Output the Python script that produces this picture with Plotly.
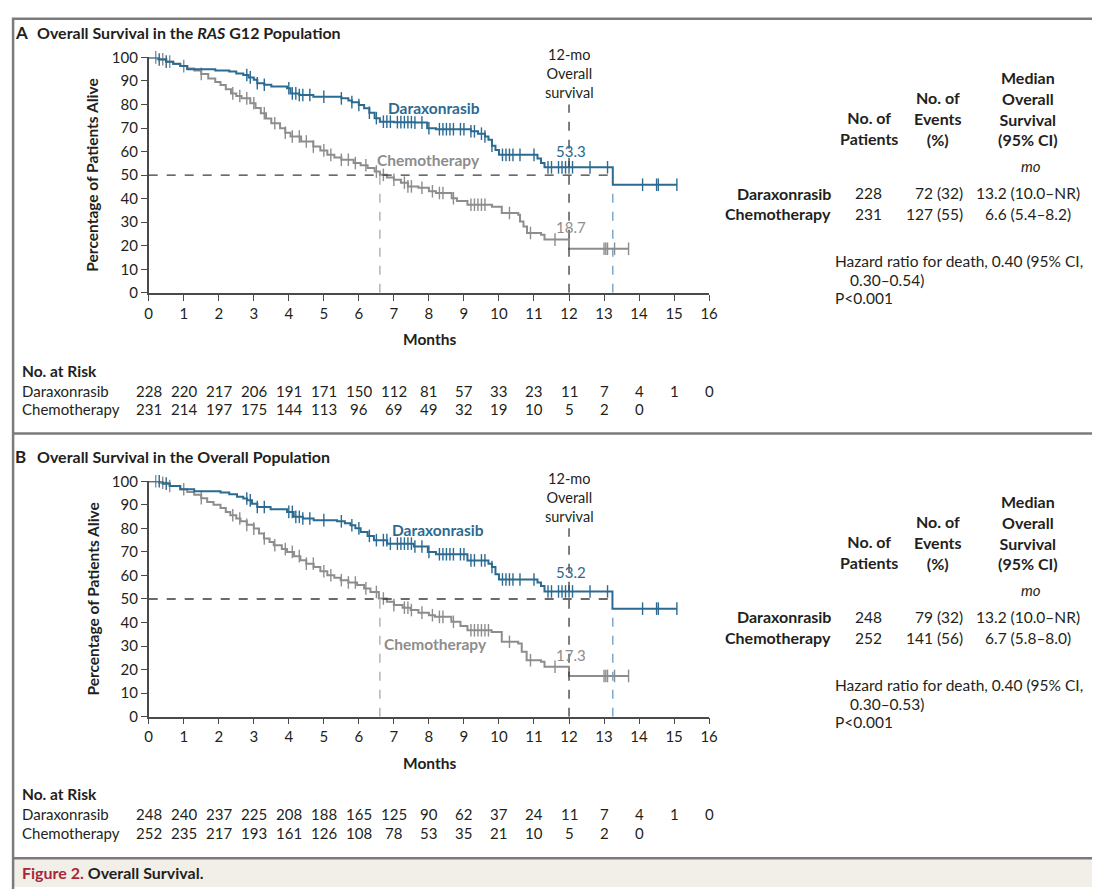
import plotly.graph_objects as go
import plotly.io as pio

pio.templates.default = 'plotly_white'

W, H = 1100, 887
# the photographed page comes out slightly shrunk and shifted; these undo that when placing things
SX, SY = 0.9857, 0.9823
OX, OY = 11.8, 17.8
BLUE = '#2b6a91'
GRAY = '#8d8d8d'
INK = '#231f20'
FONT = 'Lato'

# ---- data ----
months = list(range(0, 17))

# panel A (RAS G12 population)
a_dara_t = [0, 0.3, 0.5, 0.7, 0.9, 1.1, 1.9, 2.3, 2.5, 2.7, 2.85, 3.0, 3.1, 3.3, 3.5, 3.95, 4.05, 4.3, 4.7, 5.5,
            5.7, 5.8, 6.0, 6.15, 6.3, 6.45, 6.6, 7.0, 7.6, 7.95, 8.2, 9.2, 9.4, 9.6, 9.7, 9.8, 9.9, 10.0, 11.1, 11.2,
            11.3, 13.25, 15.08]
a_dara_s = [100, 99.1, 98.2, 97.3, 96.3, 95.0, 94.4, 94.0, 93.2, 92.5, 91.5, 90.5, 89.0, 88.4, 87.6, 86.9, 84.7, 84.0,
            83.3, 82.6, 81.7, 81.0, 79.8, 78.4, 76.5, 74.2, 72.7, 72.5, 72.3, 69.9, 69.5, 68.6, 67.6, 66.4, 65.0, 62.5,
            60.7, 58.6, 57.0, 55.1, 53.3, 45.9, 45.9]
a_chemo_t = [0, 0.25, 0.5, 0.7, 0.9, 1.1, 1.3, 1.5, 1.7, 1.9, 2.05, 2.2, 2.35, 2.5, 2.65, 2.9, 3.05, 3.2, 3.35, 3.5,
             3.75, 3.9, 4.05, 4.35, 4.7, 4.9, 5.1, 5.3, 5.5, 5.85, 6.05, 6.25, 6.45, 6.6, 6.8, 7.0, 7.2, 7.4, 7.7, 8.0,
             8.2, 8.65, 8.8, 9.1, 9.8, 10.08, 10.55, 10.6, 10.7, 10.8, 11.2, 11.3, 12.0, 13.7]
a_chemo_s = [100, 99.2, 98.2, 97.2, 96.3, 95.3, 94.4, 93.0, 91.0, 89.5, 88.3, 86.5, 84.7, 83.6, 82.6, 80.5, 78.5, 76.3,
             74.0, 72.0, 69.9, 68.0, 66.4, 64.3, 62.1, 60.5, 58.6, 57.5, 56.5, 55.1, 54.2, 53.0, 51.5, 50.1, 49.0, 48.0,
             46.8, 45.2, 44.6, 43.1, 42.4, 40.2, 39.0, 37.4, 36.5, 33.9, 33.2, 30.3, 28.2, 25.4, 24.7, 22.6, 18.7, 18.7]
a_dara_cens = [0.3, 0.5, 2.8, 2.9, 3.1, 3.3, 4.0, 4.1, 4.2, 4.3, 4.4, 4.6, 5.0, 5.5, 5.8, 6.0, 6.3, 6.5, 6.7, 6.8, 6.9,
               7.1, 7.2, 7.3, 7.4, 7.5, 7.6, 7.8, 8.0, 8.3, 8.4, 8.5, 8.6, 8.7, 8.9, 9.0, 9.2, 9.3, 9.5, 9.6, 9.8, 10.1,
               10.2, 10.3, 10.4, 10.6, 11.0, 11.4, 11.5, 11.7, 11.8, 11.9, 12.0, 12.1, 12.6, 13.1, 14.1, 14.5, 14.55,
               15.08]
a_chemo_cens = [0.2, 0.4, 0.6, 1.0, 1.5, 2.4, 2.6, 2.8, 3.0, 3.3, 3.6, 3.9, 4.1, 4.3, 4.5, 4.7, 5.0, 5.2, 5.5, 5.7, 5.9,
                6.2, 6.5, 6.7, 7.0, 7.3, 7.4, 7.5, 7.8, 8.1, 8.3, 8.4, 8.7, 9.2, 9.3, 9.4, 9.5, 9.6, 10.3, 10.9, 11.6,
                13.0, 13.05, 13.1, 13.3, 13.7]

# panel B (overall population)
b_dara_t = [0, 0.4, 0.6, 0.9, 1.3, 2.05, 2.3, 2.52, 2.7, 2.81, 2.95, 3.1, 3.48, 3.95, 4.14, 4.4, 4.71, 5.38, 5.6,
            5.76, 5.9, 6.05, 6.25, 6.43, 6.81, 7.57, 7.97, 8.2, 9.1, 9.7, 9.8, 9.9, 10.0, 11.1, 11.2, 11.3, 13.24, 15.08]
b_dara_s = [100, 99.0, 98.0, 96.6, 95.8, 95.2, 94.5, 93.4, 92.7, 91.9, 90.5, 89.1, 88.1, 87.0, 84.9, 84.2, 83.5, 83.0,
            82.2, 81.3, 80.0, 78.5, 76.8, 75.0, 73.5, 72.3, 70.0, 69.0, 66.4, 65.0, 63.6, 60.5, 58.3, 57.0, 55.5, 53.2,
            45.9, 45.9]
b_chemo_t = [0, 0.3, 0.6, 0.9, 1.1, 1.3, 1.5, 1.67, 1.85, 2.05, 2.2, 2.33, 2.5, 2.62, 2.8, 3.0, 3.15, 3.29, 3.45, 3.57,
             3.8, 3.95, 4.15, 4.33, 4.5, 4.71, 4.9, 5.1, 5.3, 5.48, 5.7, 5.95, 6.15, 6.33, 6.57, 6.8, 7.0, 7.25, 7.48,
             7.7, 8.0, 8.17, 8.64, 8.9, 9.1, 9.79, 10.08, 10.55, 10.65, 10.79, 11.2, 11.3, 12.0, 13.7]
b_chemo_s = [100, 99.4, 98.0, 96.6, 95.5, 94.3, 92.8, 91.2, 90.0, 88.7, 87.0, 85.6, 84.2, 83.0, 81.5, 79.9, 77.8, 75.7,
             74.2, 72.8, 71.2, 70.0, 68.2, 66.5, 65.0, 63.6, 61.8, 60.1, 59.0, 58.0, 57.0, 55.9, 54.5, 53.0, 50.2, 48.8,
             47.4, 46.3, 45.3, 44.2, 43.1, 42.4, 40.3, 38.5, 36.7, 36.0, 31.8, 31.1, 27.6, 24.0, 23.3, 21.2, 17.3, 17.3]
b_dara_cens = [0.3, 0.5, 2.8, 2.9, 3.1, 3.3, 4.0, 4.1, 4.2, 4.3, 4.4, 4.6, 5.0, 5.5, 5.8, 6.0, 6.3, 6.5, 6.7, 6.8, 6.9,
               7.1, 7.2, 7.3, 7.4, 7.5, 7.6, 7.8, 8.0, 8.3, 8.4, 8.5, 8.6, 8.7, 8.9, 9.0, 9.2, 9.3, 9.5, 9.6, 9.8, 10.1,
               10.2, 10.3, 10.4, 10.6, 11.0, 11.4, 11.5, 11.7, 11.8, 11.9, 12.0, 12.1, 12.6, 13.1, 14.1, 14.5, 14.55,
               15.08]
b_chemo_cens = [0.2, 0.4, 0.6, 1.0, 1.5, 2.4, 2.6, 2.8, 3.0, 3.3, 3.6, 3.9, 4.1, 4.3, 4.5, 4.7, 5.0, 5.2, 5.5, 5.7, 5.9,
                6.2, 6.5, 6.7, 7.0, 7.3, 7.4, 7.5, 7.8, 8.1, 8.3, 8.4, 8.7, 9.2, 9.3, 9.4, 9.5, 9.6, 9.7, 10.3, 10.9,
                11.6, 13.0, 13.05, 13.1, 13.3, 13.7]

# number at risk
a_risk_dara = [228, 220, 217, 206, 191, 171, 150, 112, 81, 57, 33, 23, 11, 7, 4, 1, 0]
a_risk_chemo = [231, 214, 197, 175, 144, 113, 96, 69, 49, 32, 19, 10, 5, 2, 0]
b_risk_dara = [248, 240, 237, 225, 208, 188, 165, 125, 90, 62, 37, 24, 11, 7, 4, 1, 0]
b_risk_chemo = [252, 235, 217, 193, 161, 126, 108, 78, 53, 35, 21, 10, 5, 2, 0]

# summary table
arms = ['Daraxonrasib', 'Chemotherapy']
a_patients = ['228', '231']
a_events = ['72 (32)', '127 (55)']
a_median = ['13.2 (10.0–NR)', '6.6 (5.4–8.2)']
b_patients = ['248', '252']
b_events = ['79 (32)', '141 (56)']
b_median = ['13.2 (10.0–NR)', '6.7 (5.8–8.0)']
a_hr = ['Hazard ratio for death, 0.40 (95% CI,', '0.30–0.54)', 'P<0.001']
b_hr = ['Hazard ratio for death, 0.40 (95% CI,', '0.30–0.53)', 'P<0.001']
a_med_months = [13.25, 6.6]
b_med_months = [13.25, 6.6]
a_os12 = ['53.3', '18.7']
b_os12 = ['53.2', '17.3']


def px(x):
    return min(max((x / SX - OX) / W, 0.001), 0.999)


def py(y):
    return min(max(1 - (y / SY - OY) / H, 0.0), 0.999)


def surv_at(ts, ss, t):
    val = ss[0]
    for ti, si in zip(ts, ss):
        if ti <= t:
            val = si
    return val


fig = go.Figure()
annotations = []
shapes = []


def text(x, y, s, size=15, color=INK, xanchor='left', yanchor='middle', xref='paper', yref='paper', **kw):
    if xref == 'paper':
        x = px(x)
    if yref == 'paper':
        y = py(y)
    annotations.append(dict(x=x, y=y, xref=xref, yref=yref, text=s, showarrow=False, xanchor=xanchor,
                            yanchor=yanchor, font=dict(family=FONT, size=size, color=color), **kw))


def panel(k, oy, letter, title, dara, chemo, risk, table, hr, med, os12, lab):
    xa = 'x' if k == 1 else f'x{k}'
    ya = 'y' if k == 1 else f'y{k}'
    (dt, ds, dc), (ct, cs, cc) = dara, chemo
    for t, s, c, col in [(ct, cs, cc, GRAY), (dt, ds, dc, BLUE)]:
        fig.add_trace(go.Scatter(x=t, y=s, mode='lines', line=dict(color=col, width=2, shape='hv'),
                                 xaxis=xa, yaxis=ya, cliponaxis=False, showlegend=False, hoverinfo='skip'))
        fig.add_trace(go.Scatter(x=c, y=[surv_at(t, s, v) for v in c], mode='markers',
                                 marker=dict(symbol='line-ns-open', size=9, color=col,
                                             line=dict(color=col, width=1.4)),
                                 xaxis=xa, yaxis=ya, cliponaxis=False, showlegend=False, hoverinfo='skip'))

    # reference lines
    shapes.append(dict(type='line', xref=xa, yref=ya, x0=0, x1=med[0], y0=50, y1=50,
                       line=dict(color='#3a3a3a', width=1.3, dash='dash')))
    shapes.append(dict(type='line', xref=xa, yref=ya, x0=med[1], x1=med[1], y0=0, y1=50,
                       line=dict(color='#a8a8a8', width=1.3, dash='dash')))
    shapes.append(dict(type='line', xref=xa, yref=ya, x0=med[0], x1=med[0], y0=0, y1=surv_at(dt, ds, med[0]),
                       line=dict(color='#6a9ac0', width=1.3, dash='dash')))
    shapes.append(dict(type='line', xref=xa, yref=ya, x0=12, x1=12, y0=0, y1=80,
                       line=dict(color='#3a3a3a', width=1.3, dash='dash')))

    text(12, 80.5, '12-mo<br>Overall<br>survival', size=14.5, xanchor='center', yanchor='bottom',
         xref=xa, yref=ya)
    text(12.05, lab[0], os12[0], size=15, color=BLUE, xanchor='center', xref=xa, yref=ya)
    text(12.05, lab[1], os12[1], size=15, color=GRAY, xanchor='center', xref=xa, yref=ya)
    text(lab[2][0], lab[2][1], '<b>Daraxonrasib</b>', size=15.5, color=BLUE, xanchor='center', xref=xa, yref=ya)
    text(lab[3][0], lab[3][1], '<b>Chemotherapy</b>', size=15.5, color=GRAY, xanchor='center', xref=xa, yref=ya)

    # titles
    text(12, 32 + oy, f'<b>{letter}</b>', size=17)
    text(35, 32 + oy, f'<b>{title}</b>', size=16)
    text(92, 175 + oy, '<b>Percentage of Patients Alive</b>', size=15.5, xanchor='center', textangle=-90)
    text(428, 339 + oy, '<b>Months</b>', size=15.5, xanchor='center')

    # number at risk
    text(20, 371 + oy, '<b>No. at Risk</b>', size=15.5)
    for row, (name, vals) in enumerate(zip(arms, risk)):
        yy = 391 + oy + row * 19
        text(20, yy, name, size=15)
        for m, v in zip(months, vals):
            text(m, yy, str(v), size=15, xanchor='center', xref=xa)

    # summary table
    pats, evs, meds = table
    text(866, 128 + oy, '<b>No. of<br>Patients</b>', size=16, xanchor='center')
    text(935, 118 + oy, '<b>No. of<br>Events<br>(%)</b>', size=16, xanchor='center')
    text(1025, 108 + oy, '<b>Median<br>Overall<br>Survival<br>(95% CI)</b>', size=16, xanchor='center')
    text(1028, 166 + oy, '<i>mo</i>', size=15, xanchor='center')
    for row in range(2):
        yy = 193 + oy + row * 21
        text(831, yy, f'<b>{arms[row]}</b>', size=16, xanchor='right')
        text(866, yy, pats[row], size=15.5, xanchor='center')
        text(962, yy, evs[row], size=15.5, xanchor='right')
        text(1025, yy, meds[row], size=15.5, xanchor='center')
    text(831, 261 + oy, hr[0], size=15.5)
    text(846, 280 + oy, hr[1], size=15.5)
    text(831, 298 + oy, hr[2], size=15.5)


panel(1, 0, 'A', 'Overall Survival in the <i>RAS</i> G12 Population',
      (a_dara_t, a_dara_s, a_dara_cens), (a_chemo_t, a_chemo_s, a_chemo_cens),
      (a_risk_dara, a_risk_chemo), (a_patients, a_events, a_median), a_hr, a_med_months, a_os12,
      (60.2, 27.8, (8.15, 78.6), (8.0, 56.4)))
panel(2, 425, 'B', 'Overall Survival in the Overall Population',
      (b_dara_t, b_dara_s, b_dara_cens), (b_chemo_t, b_chemo_s, b_chemo_cens),
      (b_risk_dara, b_risk_chemo), (b_patients, b_events, b_median), b_hr, b_med_months, b_os12,
      (61.5, 26.2, (8.25, 79.4), (8.2, 30.9)))

# frame, separators and caption band
L, R = px(2), px(1098)
shapes += [
    dict(type='rect', xref='paper', yref='paper', x0=0, x1=1, y0=0, y1=py(860),
         fillcolor='#f2eee8', line=dict(width=0), layer='below'),
    dict(type='rect', xref='paper', yref='paper', x0=L, x1=R, y0=-0.01, y1=py(12),
         line=dict(color='#7b7b7b', width=2.5)),
    dict(type='line', xref='paper', yref='paper', x0=L, x1=R, y0=py(434), y1=py(434),
         line=dict(color='#7b7b7b', width=2.5)),
    dict(type='line', xref='paper', yref='paper', x0=L, x1=R, y0=py(860), y1=py(860),
         line=dict(color='#7b7b7b', width=2.5)),
]
text(20, 874, "<b><span style='color:#a8283a'>Figure 2.</span> Overall Survival.</b>", size=16)

axis_x = dict(range=[0, 16], tickvals=months, ticks='outside', ticklen=6, tickwidth=1.3, tickcolor='#4a4a4a',
              showline=True, linecolor='#4a4a4a', linewidth=1.5, showgrid=False, zeroline=False,
              tickfont=dict(family=FONT, size=15, color=INK), fixedrange=True)
axis_y = dict(range=[0, 100], tickvals=list(range(0, 101, 10)), ticks='outside', ticklen=6, tickwidth=1.3,
              tickcolor='#4a4a4a', showline=True, linecolor='#4a4a4a', linewidth=1.5, showgrid=False,
              zeroline=False, tickfont=dict(family=FONT, size=15, color=INK), fixedrange=True)

fig.update_layout(
    width=W, height=H,
    margin=dict(l=0, r=0, t=0, b=0),
    paper_bgcolor='white', plot_bgcolor='rgba(0,0,0,0)',
    xaxis=dict(axis_x, domain=[px(148), px(707)], anchor='y'),
    yaxis=dict(axis_y, domain=[py(293), py(57)], anchor='x'),
    xaxis2=dict(axis_x, domain=[px(148), px(707)], anchor='y2'),
    yaxis2=dict(axis_y, domain=[py(718), py(482)], anchor='x2'),
    annotations=annotations,
    shapes=shapes,
    font=dict(family=FONT, color=INK),
)

fig.write_html('out.html')
